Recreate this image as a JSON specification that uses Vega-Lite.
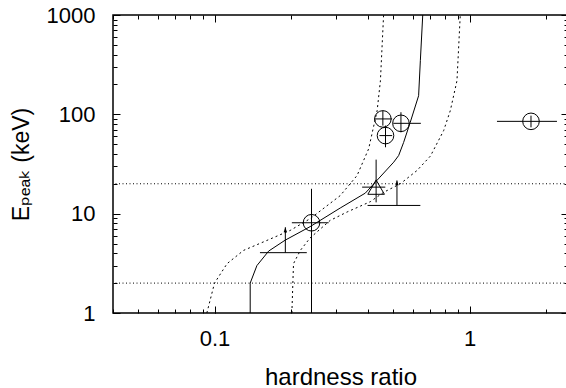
{
  "$schema": "https://vega.github.io/schema/vega-lite/v6.json",
  "width": 455,
  "height": 298,
  "autosize": {"type": "none"},
  "padding": {"left": 113, "top": 15, "right": 0, "bottom": 75},
  "background": "white",
  "config": {
    "view": {"stroke": "black", "strokeWidth": 1.5},
    "font": "Liberation Sans"
  },
  "datasets": {
    "hlines": [{"ep": 2}, {"ep": 20}],
    "curves": [
      {"curve": "model", "i": 1, "hr": 0.138, "ep": 1},
      {"curve": "model", "i": 2, "hr": 0.138, "ep": 2},
      {"curve": "model", "i": 3, "hr": 0.1466, "ep": 3.0},
      {"curve": "model", "i": 4, "hr": 0.163, "ep": 4.2},
      {"curve": "model", "i": 5, "hr": 0.189, "ep": 5.4},
      {"curve": "model", "i": 6, "hr": 0.237, "ep": 7.4},
      {"curve": "model", "i": 7, "hr": 0.311, "ep": 11.4},
      {"curve": "model", "i": 8, "hr": 0.39, "ep": 16.1},
      {"curve": "model", "i": 9, "hr": 0.433, "ep": 21.6},
      {"curve": "model", "i": 10, "hr": 0.504, "ep": 33},
      {"curve": "model", "i": 11, "hr": 0.527, "ep": 38.5},
      {"curve": "model", "i": 12, "hr": 0.551, "ep": 52},
      {"curve": "model", "i": 13, "hr": 0.585, "ep": 83},
      {"curve": "model", "i": 14, "hr": 0.631, "ep": 154},
      {"curve": "model", "i": 15, "hr": 0.641, "ep": 347},
      {"curve": "model", "i": 16, "hr": 0.655, "ep": 1000},
      {"curve": "upper", "i": 1, "hr": 0.0933, "ep": 1},
      {"curve": "upper", "i": 2, "hr": 0.1, "ep": 2},
      {"curve": "upper", "i": 3, "hr": 0.112, "ep": 3.14},
      {"curve": "upper", "i": 4, "hr": 0.13, "ep": 4.27},
      {"curve": "upper", "i": 5, "hr": 0.1605, "ep": 5.38},
      {"curve": "upper", "i": 6, "hr": 0.198, "ep": 6.78},
      {"curve": "upper", "i": 7, "hr": 0.237, "ep": 8.9},
      {"curve": "upper", "i": 8, "hr": 0.311, "ep": 15.2},
      {"curve": "upper", "i": 9, "hr": 0.362, "ep": 24.2},
      {"curve": "upper", "i": 10, "hr": 0.402, "ep": 45},
      {"curve": "upper", "i": 11, "hr": 0.434, "ep": 109},
      {"curve": "upper", "i": 12, "hr": 0.447, "ep": 218},
      {"curve": "upper", "i": 13, "hr": 0.46, "ep": 1000},
      {"curve": "lower", "i": 1, "hr": 0.201, "ep": 1},
      {"curve": "lower", "i": 2, "hr": 0.204, "ep": 3.14},
      {"curve": "lower", "i": 3, "hr": 0.217, "ep": 4.27},
      {"curve": "lower", "i": 4, "hr": 0.237, "ep": 5.7},
      {"curve": "lower", "i": 5, "hr": 0.284, "ep": 8.55},
      {"curve": "lower", "i": 6, "hr": 0.331, "ep": 10.4},
      {"curve": "lower", "i": 7, "hr": 0.408, "ep": 13.2},
      {"curve": "lower", "i": 8, "hr": 0.46, "ep": 16.4},
      {"curve": "lower", "i": 9, "hr": 0.535, "ep": 20},
      {"curve": "lower", "i": 10, "hr": 0.622, "ep": 27.2},
      {"curve": "lower", "i": 11, "hr": 0.702, "ep": 38},
      {"curve": "lower", "i": 12, "hr": 0.791, "ep": 68.6},
      {"curve": "lower", "i": 13, "hr": 0.84, "ep": 109},
      {"curve": "lower", "i": 14, "hr": 0.892, "ep": 218},
      {"curve": "lower", "i": 15, "hr": 0.919, "ep": 1000}
    ],
    "pts": [
      {"sym": "circle", "hr": 0.240, "ep": 8.1, "hrlo": 0.201, "hrhi": 0.280, "eplo": 0.5, "ephi": 17.8},
      {"sym": "circle", "hr": 0.457, "ep": 89.9, "hrlo": 0.423, "hrhi": 0.497, "eplo": 77, "ephi": 109},
      {"sym": "circle", "hr": 0.538, "ep": 81.2, "hrlo": 0.502, "hrhi": 0.644, "eplo": 65.9, "ephi": 105},
      {"sym": "circle", "hr": 0.468, "ep": 61.1, "hrlo": 0.443, "hrhi": 0.497, "eplo": 46.6, "ephi": 77},
      {"sym": "circle", "hr": 1.74, "ep": 85, "hrlo": 1.28, "hrhi": 2.20, "eplo": 74, "ephi": 97},
      {"sym": "triangle-up", "hr": 0.430, "ep": 18.5, "hrlo": 0.379, "hrhi": 0.467, "eplo": 13.0, "ephi": 35}
    ],
    "lims": [
      {"hr": 0.1895, "ep": 4.05, "hrlo": 0.1507, "hrhi": 0.230, "eptop": 7.3},
      {"hr": 0.519, "ep": 12.1, "hrlo": 0.398, "hrhi": 0.641, "eptop": 21.6}
    ]
  },
  "resolve": {"axis": {"x": "independent", "y": "independent"}},
  "layer": [
    {
      "data": {"name": "hlines"},
      "mark": {"type": "rule", "color": "black", "strokeWidth": 1, "strokeDash": [1, 2.5]},
      "encoding": {
        "y": {
          "field": "ep", "type": "quantitative",
          "scale": {"type": "log", "domain": [1, 1000], "nice": false},
          "axis": {
            "orient": "left",
            "values": [1, 2, 3, 4, 5, 6, 7, 8, 9, 10, 20, 30, 40, 50, 60, 70, 80, 90, 100, 200, 300, 400, 500, 600, 700, 800, 900, 1000],
            "domain": false, "grid": false,
            "tickColor": "black", "tickWidth": 1, "tickSize": -4,
            "labelExpr": "indexof([1,10,100,1000], datum.value) >= 0 ? '' + datum.value : ''",
            "labelFontSize": 22, "labelColor": "black", "labelFont": "Liberation Sans",
            "labelPadding": 22, "labelOverlap": false, "labelFlush": false, "labelBound": false,
            "title": "Eₚₑₐₖ (keV)",
            "titleFontSize": 23, "titleFontWeight": "normal", "titleColor": "black", "titleFont": "Liberation Sans, DejaVu Sans",
            "titleAngle": -90, "titleBaseline": "alphabetic", "titleAlign": "center",
            "titleX": -85, "titleY": 149
          }
        }
      }
    },
    {
      "data": {"name": "curves"},
      "transform": [{"filter": "datum.curve == 'model'"}],
      "mark": {"type": "line", "color": "black", "strokeWidth": 1, "clip": true},
      "encoding": {
        "x": {
          "field": "hr", "type": "quantitative",
          "scale": {"type": "log", "domain": [0.04, 2.43], "nice": false},
          "axis": {
            "orient": "bottom",
            "values": [0.04, 0.05, 0.06, 0.07, 0.08, 0.09, 0.1, 0.2, 0.3, 0.4, 0.5, 0.6, 0.7, 0.8, 0.9, 1, 2],
            "domain": false, "grid": false,
            "tickColor": "black", "tickWidth": 1, "tickSize": -4,
            "labelExpr": "datum.value == 0.1 ? '0.1' : (datum.value == 1 ? '1' : '')",
            "labelFontSize": 22, "labelColor": "black", "labelFont": "Liberation Sans",
            "labelPadding": 19, "labelOverlap": false, "labelFlush": false, "labelBound": false,
            "title": "hardness ratio",
            "titleFontSize": 24, "titleFontWeight": "normal", "titleColor": "black", "titleFont": "Liberation Sans",
            "titleBaseline": "alphabetic", "titleY": 71
          }
        },
        "y": {
          "field": "ep", "type": "quantitative",
          "scale": {"type": "log", "domain": [1, 1000], "nice": false},
          "axis": {
            "orient": "right",
            "values": [1, 2, 3, 4, 5, 6, 7, 8, 9, 10, 20, 30, 40, 50, 60, 70, 80, 90, 100, 200, 300, 400, 500, 600, 700, 800, 900, 1000],
            "domain": false, "grid": false, "labels": false, "title": null,
            "tickColor": "black", "tickWidth": 1, "tickSize": -4
          }
        },
        "order": {"field": "i", "type": "quantitative"}
      }
    },
    {
      "data": {"name": "curves"},
      "transform": [{"filter": "datum.curve != 'model'"}],
      "mark": {"type": "line", "color": "black", "strokeWidth": 1, "strokeDash": [2, 3], "clip": true},
      "encoding": {
        "x": {
          "field": "hr", "type": "quantitative",
          "scale": {"type": "log", "domain": [0.04, 2.43], "nice": false},
          "axis": {
            "orient": "top",
            "values": [0.04, 0.05, 0.06, 0.07, 0.08, 0.09, 0.1, 0.2, 0.3, 0.4, 0.5, 0.6, 0.7, 0.8, 0.9, 1, 2],
            "domain": false, "grid": false, "labels": false, "title": null,
            "tickColor": "black", "tickWidth": 1, "tickSize": -4
          }
        },
        "y": {
          "field": "ep", "type": "quantitative",
          "scale": {"type": "log", "domain": [1, 1000], "nice": false},
          "axis": {
            "orient": "left",
            "values": [1, 10, 100, 1000],
            "domain": false, "grid": false, "labels": false, "title": null,
            "tickColor": "black", "tickWidth": 1, "tickSize": -7
          }
        },
        "detail": {"field": "curve", "type": "nominal"},
        "order": {"field": "i", "type": "quantitative"}
      }
    },
    {
      "data": {"name": "pts"},
      "mark": {"type": "rule", "color": "black", "strokeWidth": 1, "clip": true},
      "encoding": {
        "x": {
          "field": "hrlo", "type": "quantitative",
          "scale": {"type": "log", "domain": [0.04, 2.43], "nice": false},
          "axis": {
            "orient": "bottom",
            "values": [0.1, 1],
            "domain": false, "grid": false, "labels": false, "title": null,
            "tickColor": "black", "tickWidth": 1, "tickSize": -7
          }
        },
        "x2": {"field": "hrhi"},
        "y": {
          "field": "ep", "type": "quantitative",
          "scale": {"type": "log", "domain": [1, 1000], "nice": false},
          "axis": {
            "orient": "right",
            "values": [1, 10, 100, 1000],
            "domain": false, "grid": false, "labels": false, "title": null,
            "tickColor": "black", "tickWidth": 1, "tickSize": -7
          }
        }
      }
    },
    {
      "data": {"name": "pts"},
      "mark": {"type": "rule", "color": "black", "strokeWidth": 1, "clip": true},
      "encoding": {
        "x": {
          "field": "hr", "type": "quantitative",
          "scale": {"type": "log", "domain": [0.04, 2.43], "nice": false},
          "axis": {
            "orient": "top",
            "values": [0.1, 1],
            "domain": false, "grid": false, "labels": false, "title": null,
            "tickColor": "black", "tickWidth": 1, "tickSize": -7
          }
        },
        "y": {"field": "eplo", "type": "quantitative", "scale": {"type": "log", "domain": [1, 1000], "nice": false}, "axis": null},
        "y2": {"field": "ephi"}
      }
    },
    {
      "data": {"name": "pts"},
      "mark": {"type": "point", "filled": false, "stroke": "black", "strokeWidth": 1, "size": 275, "opacity": 1, "clip": true},
      "encoding": {
        "x": {"field": "hr", "type": "quantitative", "scale": {"type": "log", "domain": [0.04, 2.43], "nice": false}, "axis": null},
        "y": {"field": "ep", "type": "quantitative", "scale": {"type": "log", "domain": [1, 1000], "nice": false}, "axis": null},
        "shape": {"field": "sym", "type": "nominal", "scale": null, "legend": null}
      }
    },
    {
      "data": {"name": "lims"},
      "mark": {"type": "rule", "color": "black", "strokeWidth": 1, "clip": true},
      "encoding": {
        "x": {"field": "hrlo", "type": "quantitative", "scale": {"type": "log", "domain": [0.04, 2.43], "nice": false}, "axis": null},
        "x2": {"field": "hrhi"},
        "y": {"field": "ep", "type": "quantitative", "scale": {"type": "log", "domain": [1, 1000], "nice": false}, "axis": null}
      }
    },
    {
      "data": {"name": "lims"},
      "mark": {"type": "rule", "color": "black", "strokeWidth": 1, "clip": true},
      "encoding": {
        "x": {"field": "hr", "type": "quantitative", "scale": {"type": "log", "domain": [0.04, 2.43], "nice": false}, "axis": null},
        "y": {"field": "ep", "type": "quantitative", "scale": {"type": "log", "domain": [1, 1000], "nice": false}, "axis": null},
        "y2": {"field": "eptop"}
      }
    },
    {
      "data": {"name": "lims"},
      "mark": {"type": "point", "shape": "M0,0L-0.6,1.8L0.6,1.8Z", "filled": true, "color": "black", "size": 30, "opacity": 1},
      "encoding": {
        "x": {"field": "hr", "type": "quantitative", "scale": {"type": "log", "domain": [0.04, 2.43], "nice": false}, "axis": null},
        "y": {"field": "eptop", "type": "quantitative", "scale": {"type": "log", "domain": [1, 1000], "nice": false}, "axis": null}
      }
    }
  ]
}
